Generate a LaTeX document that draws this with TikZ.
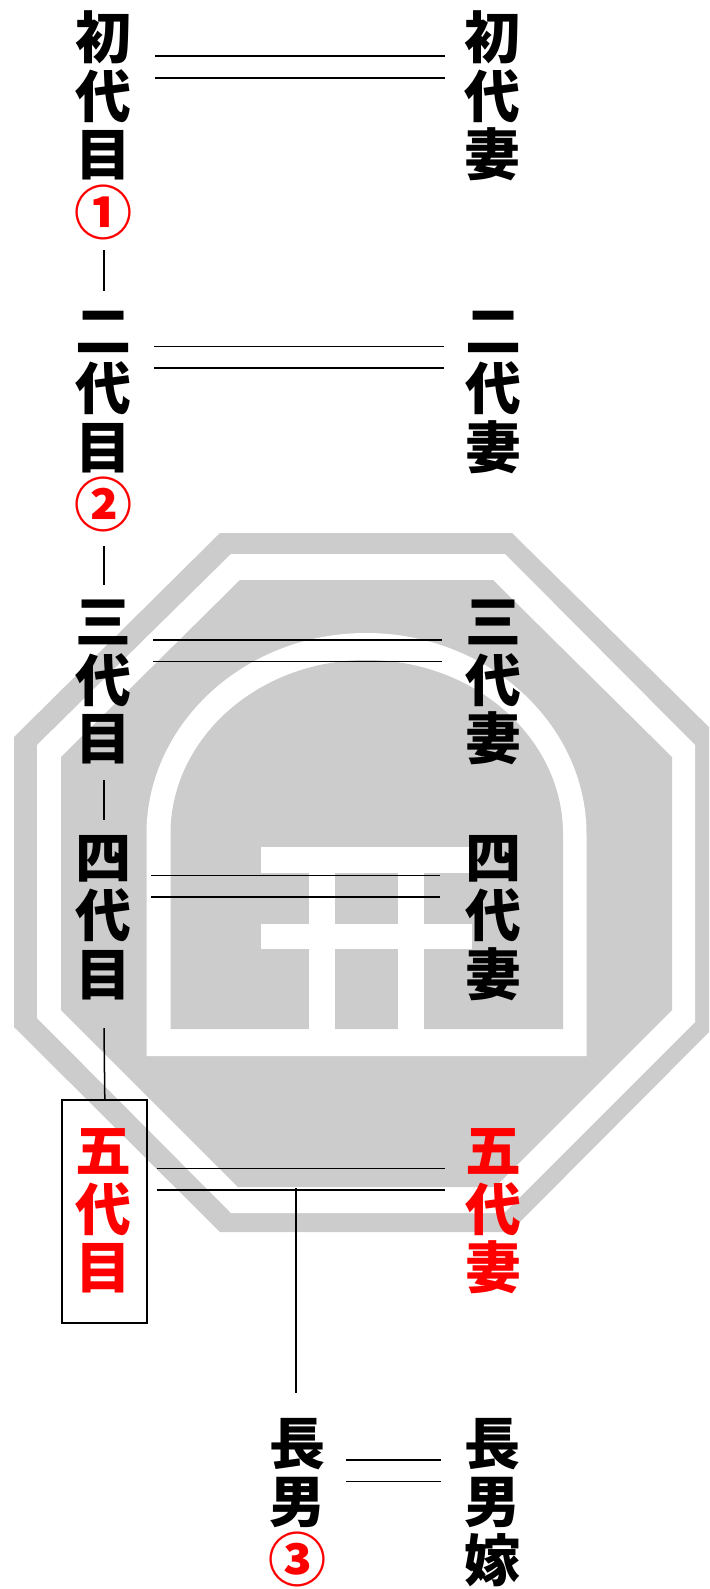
\documentclass[tikz,border=0pt]{standalone}
\usepackage{fontspec}
\usetikzlibrary{calc}
\setmainfont{Noto Sans CJK JP}[BoldFont={Noto Sans CJK JP Black}]
\newfontfamily\ringfont{Noto Sans CJK JP Medium}
\definecolor{wmgray}{HTML}{CCCCCC}
\tikzset{
  x=1pt,y=-1pt,
  col/.style={anchor=north,align=center,inner sep=0pt,outer sep=0pt,text width=58pt,
    font=\fontsize{56}{58.5}\selectfont\bfseries},
  wm/.style={fill=wmgray,draw=none},
  wmw/.style={fill=white,draw=none},
  link/.style={draw=black,line width=1.5pt},
  redtext/.style={text=red},
  framebox/.style={draw=black,line width=1.6pt,fill=none,inner sep=0pt,minimum width=85pt,minimum height=223pt,anchor=north west}
}
\newcommand{\ringed}[1]{\textcolor{red}{\ringfont\fontsize{58}{58.5}\selectfont #1}}
\newcommand{\couple}[6]{%
  \draw[link,shorten <=#5pt,shorten >=#6pt] (#1.east |- 0,#3) -- (#2.west |- 0,#3);
  \draw[link,shorten <=#5pt,shorten >=#6pt] (#1.east |- 0,#4) -- (#2.west |- 0,#4);}
\newcommand{\vconn}[4]{\draw[link] ($(#1.south |- 0,#3)+(1,0)$) -- ($(#2.north |- 0,#4)+(1,0)$);}
\begin{document}
\begin{tikzpicture}
\useasboundingbox (0,0) rectangle (709,1589);
\begin{scope}
\clip (0,0) rectangle (709,1589);
\path[wm] (220,533) -- (512,533) -- (717,735) -- (717,1024) -- (510,1232) -- (220,1232) -- (14,1027) -- (14,737) -- cycle;
\path[wmw] (231,554) -- (505,554) -- (695,745) -- (695,1022) -- (504,1213) -- (231,1213) -- (37,1018) -- (37,745) -- cycle;
\path[wm] (240,580) -- (493,580) -- (672,757) -- (672,1010) -- (495,1187) -- (238,1187) -- (61,1010) -- (61,757) -- cycle;
\path[wmw] (146.5,1056) -- (146.5,834) .. controls (146.5,724) and (244.5,633) .. (366,633) .. controls (487.5,633) and (586.5,724) .. (586.5,834) -- (586.5,1056) -- cycle;
\path[wm] (170.5,1029) -- (170.5,834) .. controls (170.5,738.5) and (258,660) .. (366.5,660) .. controls (475,660) and (563,738.5) .. (563,834) -- (563,1029) -- cycle;
\path[wmw] (261,847) rectangle (470,873);
\path[wmw] (261,923.5) rectangle (472,948.5);
\path[wmw] (309,860) rectangle (335,1032);
\path[wmw] (398,860) rectangle (424,1032);
\end{scope}
\node[col] (h1) at (103,11) {初\\代\\目\\\ringed{①}};
\node[col] (w1) at (492,11) {初\\代\\妻};
\node[col] (h2) at (103,311) {二\\代\\目\\\ringed{②}};
\node[col] (w2) at (493,311) {二\\代\\妻};
\node[col] (h3) at (103,600) {三\\代\\目};
\node[col] (w3) at (493,600) {三\\代\\妻};
\node[col] (h4) at (103,835) {四\\代\\目};
\node[col] (w4) at (493,835) {四\\代\\妻};
\node[col,redtext] (h5) at (103,1129) {五\\代\\目};
\node[col,redtext] (w5) at (493,1129) {五\\代\\妻};
\node[col] (s) at (297,1418) {長\\男\\\ringed{③}};
\node[col] (sw) at (492,1418) {長\\男\\嫁};
\node[framebox] (fr) at (61,1099) {};
\coordinate (drop) at (296,1188);
\couple{h1}{w1}{56}{78}{23}{18}
\couple{h2}{w2}{346.5}{368}{22}{20}
\couple{h3}{w3}{640}{661.5}{21}{22}
\couple{h4}{w4}{875.5}{897}{19}{24}
\couple{h5}{w5}{1168.5}{1190}{24.5}{19}
\couple{s}{sw}{1460}{1481.5}{20}{22}
\draw[link] (drop) -- (drop |- 0,1393);
\vconn{h1}{h2}{250.5}{290.5}
\vconn{h2}{h3}{546}{585}
\vconn{h3}{h4}{780}{820}
\draw[link] ($(h4.south |- 0,1028)+(1,0)$) -- ($(fr.north)+(0.5,0)$);
\end{tikzpicture}
\end{document}
